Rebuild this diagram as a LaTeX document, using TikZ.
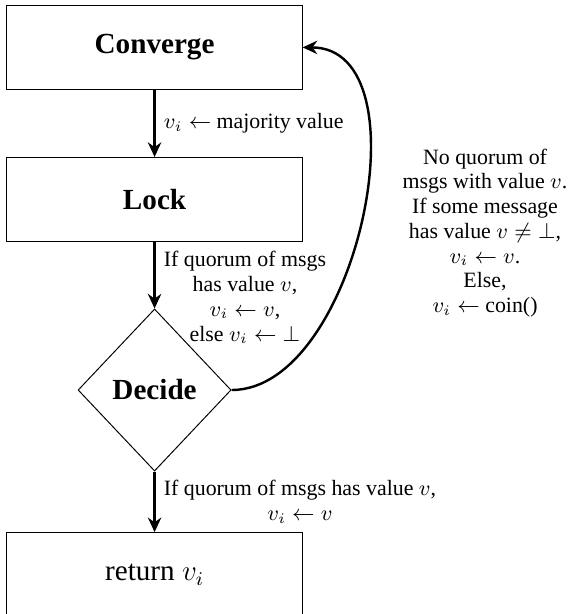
\documentclass[tikz,border=0pt]{standalone}
\usepackage{fontspec}
\setmainfont{Liberation Serif}
\usepackage{tikz}
\usetikzlibrary{shapes.geometric}
\usetikzlibrary{arrows.meta}

\begin{document}
\begin{tikzpicture}[
	stage/.style	= {draw, thin, rectangle, minimum width=4.27cm, minimum height=1.216cm, font=\fontsize{12}{14}\selectfont},
	test/.style	= {draw, thin, diamond, minimum width=2.214cm, minimum height=2.345cm, inner sep=0pt, font=\fontsize{12}{14}\selectfont},
	flow/.style	= {line width=1pt, -{Stealth[length=6pt, width=5.5pt]}},
	lbl/.style	= {font=\fontsize{9}{10.2}\selectfont, align=center}]
			%\draw[help lines] (0,0) grid (8,-9);
			\useasboundingbox (0,0) rectangle (8.376,-8.882);
			
			\node[stage] (converge) at (2.236,-0.686) {\textbf{Converge}};
			\node[stage] (lock) at (2.236,-2.886) {\textbf{Lock}};
			\node[test] (decide) at (2.236,-5.642) {\textbf{Decide}};
			\node[stage] (ret) at (2.236,-8.313) {return $v_i$};
			
			\node[lbl] (note) at (7.016,-3.371) {No quorum of\\msgs with value $v$.\\If some message\\has value $v \neq \bot$,\\$v_i \leftarrow v$.\\Else,\\$v_i \leftarrow$ coin()};
			
			\draw[flow] (converge) -- node[lbl, right] {$v_i \leftarrow$ majority value} (lock);
			\draw[flow] (lock) -- node[lbl, below right, pos=0] {If quorum of msgs\\has value $v$,\\$v_i \leftarrow v$,\\else $v_i \leftarrow \bot$} (decide);
			\draw[flow] (decide) -- node[lbl, right] {If quorum of msgs has value $v$,\\$v_i \leftarrow v$} (ret);
			\draw[flow] (decide.east) to[out=0, in=0, looseness=0.92] (converge.east);
			
\end{tikzpicture}
\end{document}
